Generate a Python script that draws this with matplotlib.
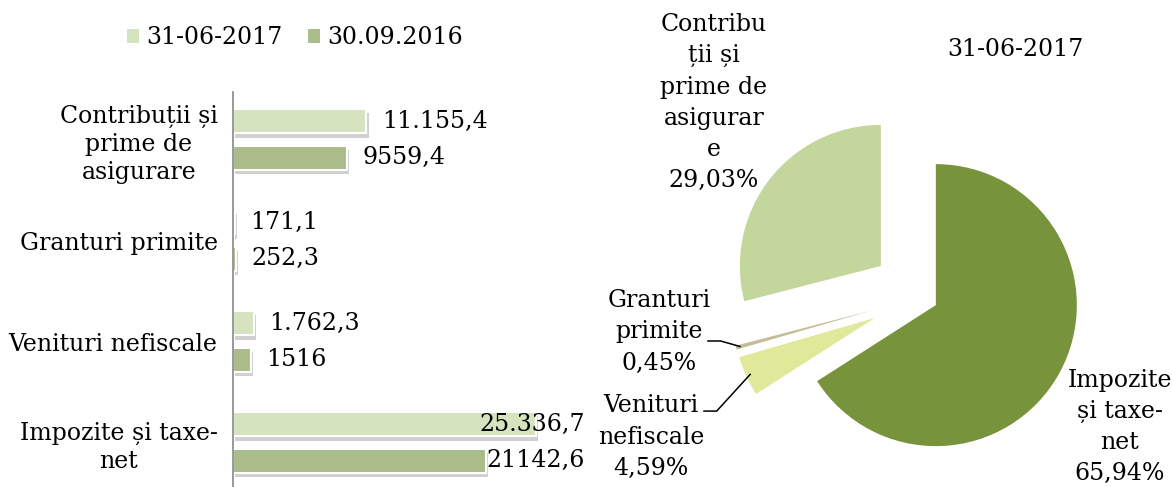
import numpy as np
import matplotlib
matplotlib.use("Agg")
import matplotlib.pyplot as plt
import matplotlib.patheffects as pe
from matplotlib.patches import Patch

# data
categories = ["Contribuții și\nprime de\nasigurare", "Granturi primite",
              "Venituri nefiscale", "Impozite și taxe-\nnet"]
series_names = ["31-06-2017", "30.09.2016"]
vals_2017 = [11155.4, 171.1, 1762.3, 25336.7]
vals_2016 = [9559.4, 252.3, 1516, 21142.6]
labels_2017 = ["11.155,4", "171,1", "1.762,3", "25.336,7"]
labels_2016 = ["9559,4", "252,3", "1516", "21142,6"]

pie_names = ["Impozite\nși taxe-\nnet", "Venituri\nnefiscale", "Granturi\nprimite",
             "Contribu\nții și\nprime de\nasigurar\ne"]
pie_pct = [65.94, 4.59, 0.45, 29.03]
pie_title = "31-06-2017"

# style
font = "DejaVu Serif"
fs = 17
plt.rcParams["font.family"] = font
c_light = "#d6e3bf"
c_dark = "#a9bc89"
pie_colors = ["#77933c", "#e0e99a", "#c4bd97", "#c3d69b"]
explode = [0.12, 0.36, 0.36, 0.36]

W, H = 1172, 487
fig = plt.figure(figsize=(W / 100, H / 100), dpi=100)

# ---------------- bar chart ----------------
ax = fig.add_axes([233 / W, 0, 335 / W, 395 / H])
y = np.arange(len(categories))
shadow = [pe.SimplePatchShadow(offset=(1.5, -3), shadow_rgbFace="#666666", alpha=0.3), pe.Normal()]
b1 = ax.barh(y - 0.18, vals_2017, height=0.24, color=c_light, edgecolor="white",
             linewidth=1.5)
b2 = ax.barh(y + 0.18, vals_2016, height=0.24, color=c_dark, edgecolor="white",
             linewidth=1.5)
for bars in (b1, b2):
    for p in bars:
        p.set_path_effects(shadow)

ax.set_xlim(0, 28000)
ax.set_ylim(3.44, -0.47)
ax.set_yticks(y)
ax.set_yticklabels(categories, fontsize=fs, multialignment="center", linespacing=1.28)
ax.tick_params(axis="y", length=0, pad=11)
ax.set_xticks([])
for s in ["top", "right", "bottom"]:
    ax.spines[s].set_visible(False)
ax.spines["left"].set_color("#888888")
ax.spines["left"].set_linewidth(1.2)

# value labels, pushed back inside the right limit if they would overflow
fig.canvas.draw()
renderer = fig.canvas.get_renderer()
right_limit = 585
for bars, labs in ((b1, labels_2017), (b2, labels_2016)):
    for p, lab in zip(bars, labs):
        t = ax.annotate(lab, (p.get_width(), p.get_y() + p.get_height() / 2),
                        xytext=(11, 0), textcoords="offset points",
                        ha="left", va="center", fontsize=fs)
        bb = t.get_window_extent(renderer)
        if bb.x1 > right_limit:
            t.set_position((11 - (bb.x1 - right_limit) * 72 / 100, 0))

handles = [Patch(facecolor=c_light, edgecolor="none"), Patch(facecolor=c_dark, edgecolor="none")]
fig.legend(handles, series_names, loc="center", bbox_to_anchor=(295 / W, 1 - 38 / H), ncol=2,
           frameon=False, fontsize=fs, handlelength=0.5, handleheight=0.5,
           handletextpad=0.3, columnspacing=1.1)

# ---------------- pie chart ----------------
side = 440
cx, cy = 921, H - 297
r_px = 141
pax = fig.add_axes([(cx - side / 2) / W, (cy - side / 2) / H, side / W, side / H])
wedges, _ = pax.pie(pie_pct, colors=pie_colors, explode=explode, startangle=90,
                    counterclock=False, radius=1.0,
                    wedgeprops=dict(linewidth=0))
L = side / 2 / r_px
pax.set_xlim(-L, L)
pax.set_ylim(-L, L)
pax.set_aspect("equal")
pax.axis("off")

pie_texts = [f"{n}\n{str(v).replace('.', ',')}%" for n, v in zip(pie_names, pie_pct)]
label_pos = [(1.411, -0.922), (-1.915, -0.993), (-1.858, -0.248), (-1.468, 1.379)]
for txt, (lx, ly) in zip(pie_texts, label_pos):
    pax.text(lx, ly, txt, ha="center", va="center", fontsize=fs,
             multialignment="center", linespacing=1.45)

# leader lines for the two thin slices
for i, (tx, ty) in ((1, (-1.539, -0.809)), (2, (-1.511, -0.312))):
    w = wedges[i]
    ang = np.deg2rad((w.theta1 + w.theta2) / 2)
    ex, ey = w.center[0] + 0.97 * np.cos(ang), w.center[1] + 0.97 * np.sin(ang)
    pax.plot([tx, tx + 0.09, ex], [ty, ty, ey], color="black", lw=1.1)

pax.text(0.667, 1.752, pie_title, ha="center", va="center", fontsize=fs)

fig.savefig("out.png", dpi=100)
